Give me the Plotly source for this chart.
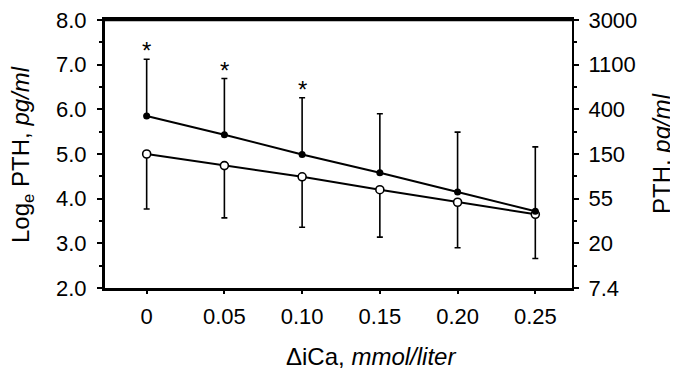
import plotly.graph_objects as go

# Data
dica = [0, 0.05, 0.10, 0.15, 0.20, 0.25]
x_tick_labels = ["0", "0.05", "0.10", "0.15", "0.20", "0.25"]
filled_mean = [5.85, 5.43, 4.99, 4.58, 4.15, 3.72]
filled_upper = [7.12, 6.69, 6.26, 5.90, 5.49, 5.16]
open_mean = [5.00, 4.74, 4.49, 4.20, 3.92, 3.65]
open_lower = [3.77, 3.57, 3.36, 3.14, 2.90, 2.66]
significant = [True, True, True, False, False, False]
left_ticks = [2, 3, 4, 5, 6, 7, 8]
left_tick_labels = ["2.0", "3.0", "4.0", "5.0", "6.0", "7.0", "8.0"]
right_tick_labels = ["7.4", "20", "55", "150", "400", "1100", "3000"]

FONT = "Liberation Sans, Arial, Helvetica, sans-serif"
TICK_SIZE = 22
TITLE_SIZE = 24

filled_err_plus = [u - m for u, m in zip(filled_upper, filled_mean)]
open_err_minus = [m - l for m, l in zip(open_mean, open_lower)]

fig = go.Figure()

fig.add_trace(go.Scatter(
    x=dica, y=open_mean, mode="lines+markers",
    line=dict(color="black", width=2),
    marker=dict(symbol="circle", size=8, color="white", line=dict(color="black", width=1.6)),
    error_y=dict(type="data", symmetric=False, array=[0] * len(dica), arrayminus=open_err_minus,
                 color="black", thickness=1.6, width=3),
    showlegend=False,
))
fig.add_trace(go.Scatter(
    x=dica, y=filled_mean, mode="lines+markers",
    line=dict(color="black", width=2),
    marker=dict(symbol="circle", size=7, color="black"),
    error_y=dict(type="data", symmetric=False, array=filled_err_plus, arrayminus=[0] * len(dica),
                 color="black", thickness=1.6, width=3),
    showlegend=False,
))
# invisible trace on right axis
fig.add_trace(go.Scatter(x=[dica[0]], y=[filled_mean[0]], yaxis="y2", mode="markers",
                         marker=dict(opacity=0), showlegend=False, hoverinfo="skip"))

# The page body adds an 8px offset; the figure is sized to fit the window.
OFF = 8
W, H = 678 - OFF, 380 - OFF
L, R, T, B = 97, 106, 12, 92
pw = W - L - R
ph = H - T - B


def px_to_paper(xs, ys):
    # screen pixel -> paper coords
    return (xs - OFF - L) / pw, (H - B - (ys - OFF)) / ph


annotations = []
for xv, up, sig in zip(dica, filled_upper, significant):
    if sig:
        annotations.append(dict(x=xv, y=up, xref="x", yref="y", text="*", showarrow=False,
                                xanchor="center", yanchor="bottom", yshift=-7,
                                font=dict(family=FONT, size=24, color="black")))

tx, ty = px_to_paper(371, 356)
annotations.append(dict(x=tx, y=ty, xref="paper", yref="paper", text="ΔiCa, <i>mmol/liter</i>",
                        xanchor="center", yanchor="middle", showarrow=False,
                        font=dict(family=FONT, size=TITLE_SIZE, color="black")))
lx, ly = px_to_paper(22, 155)
annotations.append(dict(x=lx, y=ly, xref="paper", yref="paper", text="Log<sub>e</sub> PTH, <i>pg/ml</i>",
                        xanchor="center", yanchor="middle", textangle=-90, showarrow=False,
                        font=dict(family=FONT, size=TITLE_SIZE, color="black")))
rx, ry = px_to_paper(661, 154)
annotations.append(dict(x=rx, y=ry, xref="paper", yref="paper", text="PTH, <i>pg/ml</i>",
                        xanchor="center", yanchor="middle", textangle=-90, showarrow=False,
                        font=dict(family=FONT, size=TITLE_SIZE, color="black")))

fig.update_layout(
    width=W, height=H,
    margin=dict(l=L, r=R, t=T, b=B, autoexpand=False),
    paper_bgcolor="white", plot_bgcolor="white",
    font=dict(family=FONT, size=TICK_SIZE, color="black"),
    xaxis=dict(range=[-0.0268, 0.2736], tickvals=dica, ticktext=x_tick_labels,
               showline=True, linewidth=3, linecolor="black", mirror=True,
               ticks="outside", ticklen=3, tickwidth=1.5, tickcolor="black", automargin=False,
               showgrid=False, zeroline=False, ticklabelstandoff=4, ticklabeloverflow="allow"),
    yaxis=dict(range=[2, 8], tickvals=left_ticks, ticktext=left_tick_labels,
               showline=True, linewidth=3, linecolor="black", automargin=False,
               ticks="outside", ticklen=5, tickwidth=2, tickcolor="black",
               minor=dict(dtick=0.5, tick0=2, ticks="outside", ticklen=3, tickwidth=1.5, tickcolor="black"),
               showgrid=False, zeroline=False, ticklabelstandoff=6, ticklabeloverflow="allow"),
    yaxis2=dict(range=[2, 8], overlaying="y", side="right", tickvals=left_ticks, ticktext=right_tick_labels,
                showline=True, linewidth=2, linecolor="black", automargin=False,
                ticks="outside", ticklen=5, tickwidth=2, tickcolor="black",
                minor=dict(dtick=0.5, tick0=2, ticks="outside", ticklen=3, tickwidth=1.5, tickcolor="black"),
                showgrid=False, zeroline=False, ticklabelstandoff=5, ticklabeloverflow="allow"),
    annotations=annotations,
    shapes=[dict(type="line", xref="paper", yref="paper", x0=0, x1=1, y0=1, y1=1,
                 line=dict(color="black", width=2.5))],
)

fig.write_html("out.html")
